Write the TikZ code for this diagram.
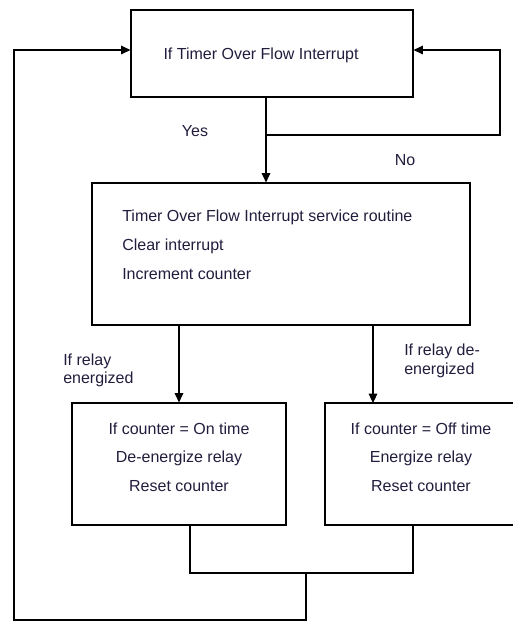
\documentclass[tikz,border=0pt]{standalone}
\usepackage{fontspec}
\setmainfont{Liberation Sans}
\usepackage{tikz}
\usetikzlibrary{arrows.meta, positioning}
\definecolor{txtcol}{RGB}{35,28,60}

\begin{document}
\begin{tikzpicture}[x=0.75pt,y=0.75pt,yscale=-1,xscale=1,
  box/.style={draw,line width=0.9pt,inner sep=0pt},
  flow/.style={line width=0.8pt,-{Triangle[length=7pt,width=6.5pt]}},
  wire/.style={line width=0.8pt},
  txt/.style={inner sep=0pt,text=txtcol,font=\fontsize{12}{14}\selectfont}]
\useasboundingbox (0,0) rectangle (512,622);

% Boxes
\node [box,minimum width=211.5pt,minimum height=65.25pt] (timer) at (272,53.5) {};
\node [box,minimum width=283.5pt,minimum height=106.5pt] (isr) at (281,254) {};
\node [box,minimum width=160.5pt,minimum height=91.5pt] (onbox) at (179,464) {};
\node [box,minimum width=141.75pt,minimum height=91.5pt] (offbox) at (419.5,464) {};

% Text in boxes
\node [txt] (timertxt) at (261,55) {If Timer Over Flow Interrupt};
\node [txt,anchor=west,align=left,font=\fontsize{12}{21.75}\selectfont] (isrtxt) at (122,245)
  {Timer Over Flow Interrupt service routine\\Clear interrupt\\Increment counter};
\node [txt,align=center,font=\fontsize{12}{21.4}\selectfont] (ontxt) at (179,457)
  {If counter = On time\\De-energize relay\\Reset counter};
\node [txt,align=center,font=\fontsize{12}{21.4}\selectfont] (offtxt) at (421,457)
  {If counter = Off time\\Energize relay\\Reset counter};

% Branch labels
\node [txt] (yes) at (195,131) {Yes};
\node [txt] (no) at (405,160) {No};
\node [txt,anchor=west,align=left,font=\fontsize{12}{13.9}\selectfont] (onlbl) at (63,370.5) {If relay\\energized};
\node [txt,anchor=west,align=left,font=\fontsize{12}{13.9}\selectfont] (offlbl) at (404,361) {If relay de-\\energized};

% Junctions
\coordinate (yesj) at (266,135);
\coordinate (loopR) at (500,50);
\coordinate (loopL) at (14,620);
\coordinate (offin) at (373,403);
\coordinate (onout) at (190,525);
\coordinate (offout) at (413,525);
\coordinate (mrg) at (306,573);

% Connectors
\draw [flow] (timer.south -| yesj) -- (isr.north -| yesj);
\draw [flow] (yesj) -| (loopR) -- (loopR -| timer.east);
\draw [flow] (isr.south -| onbox.north) -- (onbox.north);
\draw [flow] (isr.south -| offin) -- (offin);
\draw [wire] (onbox.south -| onout) |- (mrg) -| (offbox.south -| offout);
\draw [flow] (mrg) |- (loopL) |- (loopR -| timer.west);

\end{tikzpicture}
\end{document}
